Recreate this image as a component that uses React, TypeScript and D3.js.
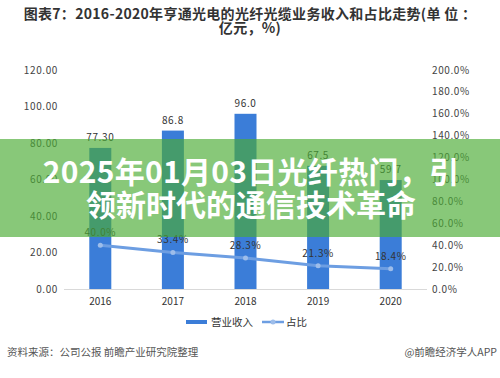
import React from "react";
import * as d3 from "d3";

const years = ["2016", "2017", "2018", "2019", "2020"];
const revenue = [77.3, 86.8, 96.0, 67.5, 59.7];
const revenueLabels = ["77.30", "86.8", "96.0", "67.5", "59.7"];
const share = [40.0, 33.4, 28.3, 21.3, 18.4];
const leftTicks = [0, 20, 40, 60, 80, 100, 120];
const rightTicks = [0, 20, 40, 60, 80, 100, 120, 140, 160, 180, 200];
const titleLines = [
  "图表7：2016-2020年亨通光电的光纤光缆业务收入和占比走势(单 位 ：",
  "亿元，%)",
];
const overlayLines = ["2025年01月03日光纤热门，引", "领新时代的通信技术革命"];
const legendNames = ["营业收入", "占比"];
const sourceText = "资料来源：公司公报 前瞻产业研究院整理";
const creditText = "@前瞻经济学人APP";

const W = 500;
const H = 378;
const FONT = "'Noto Sans CJK SC', 'Noto Sans', sans-serif";
const BLUE = "#3b7dd8";
const LINE = "#6d9ee2";

export default function App() {
  const x = d3.scaleBand<string>().domain(years).range([64, 427]).padding(0);
  const yL = d3.scaleLinear().domain([0, 120]).range([289, 70]);
  const yR = d3.scaleLinear().domain([0, 200]).range([289, 70]);
  const cx = (d: string) => (x(d) as number) + x.bandwidth() / 2;
  const barW = 22;
  const linePath = d3
    .line<number>()
    .x((_, i) => cx(years[i]))
    .y((d) => yR(d))(share);

  return (
    <svg
      width={W}
      height={H}
      style={{ position: "absolute", left: 0, top: 0, background: "#fff" }}
      fontFamily={FONT}
    >
      <rect x={0} y={0} width={W} height={H} fill="#fff" />
      {/* title */}
      {titleLines.map((t, i) => (
        <text
          key={i}
          x={250}
          y={19 + i * 14}
          textAnchor="middle"
          fontSize={14}
          fontWeight="bold"
          fill="#333"
          letterSpacing={0.3}
        >
          {t}
        </text>
      ))}
      {/* left axis labels */}
      {leftTicks.map((t) => (
        <text key={t} x={58} y={yL(t) + 3.5} textAnchor="end" fontSize={10} fill="#444" letterSpacing={0.6}>
          {t.toFixed(2)}
        </text>
      ))}
      {/* right axis labels */}
      {rightTicks.map((t) => (
        <text key={t} x={432} y={yR(t) + 3.5} textAnchor="start" fontSize={10} fill="#444" letterSpacing={0.6}>
          {t.toFixed(1) + "%"}
        </text>
      ))}
      {/* baseline */}
      <line x1={64} x2={427} y1={289.5} y2={289.5} stroke="#d9d9d9" strokeWidth={1} />
      {/* bars */}
      {revenue.map((v, i) => (
        <rect
          key={i}
          x={cx(years[i]) - barW / 2}
          y={yL(v)}
          width={barW}
          height={yL(0) - yL(v)}
          fill={BLUE}
        />
      ))}
      {revenue.map((v, i) => (
        <text key={i} x={cx(years[i])} y={yL(v) - 7} textAnchor="middle" fontSize={10} fill="#333" letterSpacing={0.6}>
          {revenueLabels[i]}
        </text>
      ))}
      {/* line */}
      <path d={linePath || ""} fill="none" stroke={LINE} strokeWidth={3} />
      {share.map((v, i) => (
        <circle key={i} cx={cx(years[i])} cy={yR(v)} r={2.5} fill="#9dbdea" />
      ))}
      {share.map((v, i) => (
        <text key={i} x={cx(years[i])} y={yR(v) - 9} textAnchor="middle" fontSize={10} fill="#333" letterSpacing={0.6}>
          {v.toFixed(1) + "%"}
        </text>
      ))}
      {/* x labels */}
      {years.map((y) => (
        <text key={y} x={cx(y)} y={305} textAnchor="middle" fontSize={10} fill="#333">
          {y}
        </text>
      ))}
      {/* legend */}
      <rect x={186} y={320} width={21} height={4} fill={BLUE} />
      <text x={211} y={326} fontSize={10.5} fill="#333">{legendNames[0]}</text>
      <line x1={262} x2={284} y1={322} y2={322} stroke={LINE} strokeWidth={2.5} />
      <circle cx={273} cy={322} r={2.5} fill="#9dbdea" />
      <text x={286} y={326} fontSize={10.5} fill="#333">{legendNames[1]}</text>
      {/* footer */}
      <text x={7} y={356} fontSize={10.5} fill="#555">{sourceText}</text>
      <text x={497} y={356} textAnchor="end" fontSize={10.5} fill="#555">{creditText}</text>
      {/* overlay */}
      <rect x={0} y={139} width={W} height={98} fill="rgb(74,172,52)" fillOpacity={0.66} />
      {overlayLines.map((t, i) => (
        <text
          key={i}
          x={251}
          y={183 + i * 33}
          textAnchor="middle"
          fontSize={30}
          fontWeight="bold"
          fill="#fff"
          letterSpacing={i === 0 ? 0.3 : 0}
        >
          {t}
        </text>
      ))}
    </svg>
  );
}
